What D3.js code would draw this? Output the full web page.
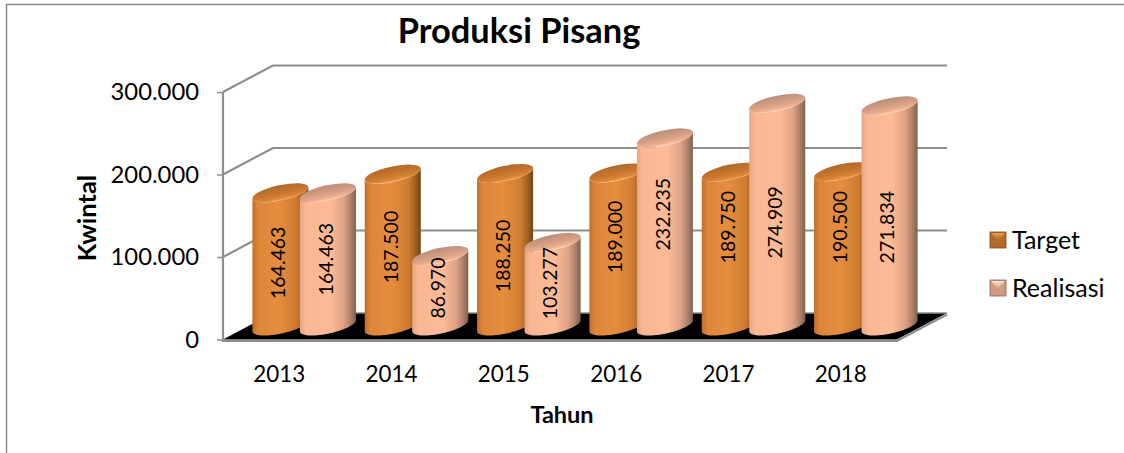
<!DOCTYPE html>
<html lang="en">
  <head>
    <meta charset="UTF-8" />
    <title>Produksi Pisang</title>
    <style>
      html, body { margin: 0; padding: 0; background: #fff; }
      svg { display: block; }
      text { font-family: Lato, "Open Sans", sans-serif; fill: #000; }
    </style>
  </head>

  <body>
    <div id="chart"></div>

  <script src="https://d3js.org/d3.v7.min.js"></script>
    <script>

var years = ["2013", "2014", "2015", "2016", "2017", "2018"];
var target = [164463, 187500, 188250, 189000, 189750, 190500];
var realisasi = [164463, 86970, 103277, 232235, 274909, 271834];
var seriesNames = ["Target", "Realisasi"];
var yTicks = [0, 100000, 200000, 300000];
// the labels were dragged around in the original, so this is the height (in kwintal) each one sits at
var targetLabelAt = [78000, 97500, 86500, 110000, 122000, 122000];
var realisasiLabelAt = [82500, 47000, 53000, 138000, 128000, 122000];

var w = 1124;
var h = 453;

var locale = d3.formatLocale({ decimal: ",", thousands: ".", grouping: [3], currency: ["", ""] });
var fmt = locale.format(",");

var svg = d3.select("#chart").append("svg")
            .attr("width", w)
            .attr("height", h);

var defs = svg.append("defs");

function hGradient(id, stops, vertical) {
  var g = defs.append("linearGradient").attr("id", id)
              .attr("x1", 0).attr("y1", 0)
              .attr("x2", vertical ? 0 : 1).attr("y2", vertical ? 1 : 0);
  stops.forEach(function(s) {
    g.append("stop").attr("offset", s[0]).attr("stop-color", s[1]);
  });
}

hGradient("bodyT", [[0, "#bd7029"], [0.1, "#db8639"], [0.45, "#e68d3f"], [0.78, "#cf7c30"], [0.92, "#9a5c1f"], [1, "#6f4318"]]);
hGradient("bodyR", [[0, "#e6a684"], [0.1, "#f9b793"], [0.55, "#fdba96"], [0.78, "#dfa284"], [0.92, "#a67c66"], [1, "#80604f"]]);
hGradient("capT", [[0, "#b06a2a"], [0.55, "#c9772f"], [0.86, "#dc8838"], [0.95, "#f2a35c"], [1, "#db8639"]], true);
hGradient("capR", [[0, "#bb8e78"], [0.55, "#d8a086"], [0.86, "#f0b291"], [0.95, "#ffd0b2"], [1, "#f9b793"]], true);
hGradient("swatchT", [[0, "#e8a050"], [1, "#a86224"]], true);
hGradient("swatchR", [[0, "#fde0cc"], [1, "#d29b80"]], true);

// border of the chart area, only the left and top sides show
svg.append("path")
   .attr("d", "M6.5,453V4.5H1124")
   .attr("fill", "none")
   .attr("stroke", "#8c8c8c")
   .attr("stroke-width", 1.5);

svg.append("text")
   .attr("x", 519)
   .attr("y", 43)
   .attr("text-anchor", "middle")
   .style("font-size", "34.4px")
   .style("font-weight", "bold")
   .text("Produksi Pisang");

var depthX = 50;
var depthY = -26.5;

var y = d3.scaleLinear().domain([0, 300000]).range([339.5, 92]);
var x = d3.scaleBand().domain(years).range([223, 897]);
// bars stand mid way in the depth and shrink a bit compared to the front axis
var barY = d3.scaleLinear().domain([0, 300000]).range([326, 83]);

// floor
svg.append("path")
   .attr("d", "M" + x.range()[0] + "," + y(0) + "l" + depthX + "," + depthY + "H" + (x.range()[1] + depthX) + "l" + (-depthX) + "," + (-depthY) + "Z")
   .attr("fill", "#000");

// walls and gridlines
var grid = svg.append("g").attr("fill", "none").attr("stroke", "#8e8e8e").attr("stroke-width", 2.2);

grid.selectAll("path.grid")
    .data(yTicks.slice(1))
    .enter()
    .append("path")
    .attr("class", "grid")
    .attr("d", function(d) {
      return "M" + x.range()[0] + "," + y(d) + "l" + depthX + "," + depthY + "H" + (x.range()[1] + depthX);
    });

grid.append("path")
    .attr("d", "M" + x.range()[0] + "," + y(300000) + "V" + (y(0) + 1.5) + "H" + x.range()[1] + "l" + depthX + "," + depthY);

grid.append("path")
    .attr("d", "M" + (x.range()[0] + depthX) + "," + (y(0) + depthY) + "H" + (x.range()[1] + depthX))
    .attr("stroke-width", 1.5);

var yAxis = d3.axisLeft(y).tickValues(yTicks).tickFormat(fmt).tickSize(6).tickPadding(18);
var yg = svg.append("g").attr("transform", "translate(223,0)").call(yAxis);
yg.select(".domain").remove();
yg.selectAll("line").attr("stroke", "#8e8e8e").attr("stroke-width", 1.5);
yg.selectAll("text").style("font-size", "23.8px").style("font-family", "Lato, sans-serif").attr("fill", "#000");

var xAxis = d3.axisBottom(x).tickSize(0).tickPadding(27);
var xg = svg.append("g").attr("transform", "translate(0," + y(0) + ")").call(xAxis);
xg.select(".domain").remove();
xg.selectAll("text").style("font-size", "22.4px").style("font-family", "Lato, sans-serif").attr("fill", "#000");

svg.append("text")
   .attr("transform", "translate(96,218) rotate(-90)")
   .attr("text-anchor", "middle")
   .style("font-size", "25.5px")
   .style("font-weight", "bold")
   .text("Kwintal");

svg.append("text")
   .attr("x", 562)
   .attr("y", 423)
   .attr("text-anchor", "middle")
   .style("font-size", "23.5px")
   .style("font-weight", "bold")
   .text("Tahun");

// tilted ellipse used for the top and bottom of each cylinder
var rx = 28.6;
var ry = 7.6;
var tilt = -12;
var rad = tilt * Math.PI / 180;
var tt = Math.atan(-(ry * Math.sin(rad)) / (rx * Math.cos(rad)));
var edgeX = rx * Math.cos(tt) * Math.cos(rad) - ry * Math.sin(tt) * Math.sin(rad);
var edgeY = rx * Math.cos(tt) * Math.sin(rad) + ry * Math.sin(tt) * Math.cos(rad);

function cylinder(cx, yTop, yBase) {
  // edgeX,edgeY is the right extreme of the ellipse
  return "M" + (cx - edgeX) + "," + (yTop - edgeY) +
         "L" + (cx - edgeX) + "," + (yBase - edgeY) +
         "A" + rx + "," + ry + "," + tilt + ",0,0," + (cx + edgeX) + "," + (yBase + edgeY) +
         "L" + (cx + edgeX) + "," + (yTop + edgeY) +
         "A" + rx + "," + ry + "," + tilt + ",0,1," + (cx - edgeX) + "," + (yTop - edgeY) + "Z";
}

var bars = [];
years.forEach(function(yr, i) {
  bars.push({ year: yr, value: target[i], labelAt: targetLabelAt[i], side: -1, key: "T" });
  bars.push({ year: yr, value: realisasi[i], labelAt: realisasiLabelAt[i], side: 1, key: "R" });
});

function barX(d) {
  return x(d.year) + x.bandwidth() / 2 + depthX / 2 + d.side * 23.75;
}

var barG = svg.selectAll("g.bar")
              .data(bars)
              .enter()
              .append("g")
              .attr("class", "bar");

barG.append("path")
    .attr("d", function(d) { return cylinder(barX(d), barY(d.value), barY(0)); })
    .attr("fill", function(d) { return "url(#body" + d.key + ")"; });

barG.append("ellipse")
    .attr("rx", rx)
    .attr("ry", ry)
    .attr("transform", function(d) {
      return "translate(" + barX(d) + "," + barY(d.value) + ") rotate(" + tilt + ")";
    })
    .attr("fill", function(d) { return "url(#cap" + d.key + ")"; });

barG.append("text")
    .attr("transform", function(d) {
      return "translate(" + (barX(d) - 2) + "," + barY(d.labelAt) + ") rotate(-90)";
    })
    .attr("text-anchor", "middle")
    .attr("dy", "0.35em")
    .style("font-size", "19.5px")
    .text(function(d) { return fmt(d.value); });

// legend
var legend = svg.selectAll("g.legend")
                .data(seriesNames)
                .enter()
                .append("g")
                .attr("class", "legend")
                .attr("transform", function(d, i) { return "translate(990," + (232 + i * 48) + ")"; });

legend.append("rect")
      .attr("width", 16)
      .attr("height", 16)
      .attr("fill", function(d, i) { return i == 0 ? "#b5682a" : "#cf9a80"; })
      .attr("stroke", function(d, i) { return i == 0 ? "#7a4a1c" : "#8a6552"; })
      .attr("stroke-width", 0.8);

legend.append("path")
      .attr("d", "M1,1H15L8,9Z")
      .attr("fill", function(d, i) { return "url(#swatch" + (i == 0 ? "T" : "R") + ")"; });

legend.append("text")
      .attr("x", 22)
      .attr("y", 8)
      .attr("dy", "0.35em")
      .style("font-size", "25px")
      .text(function(d) { return d; });

</script>

  </body>
</html>
